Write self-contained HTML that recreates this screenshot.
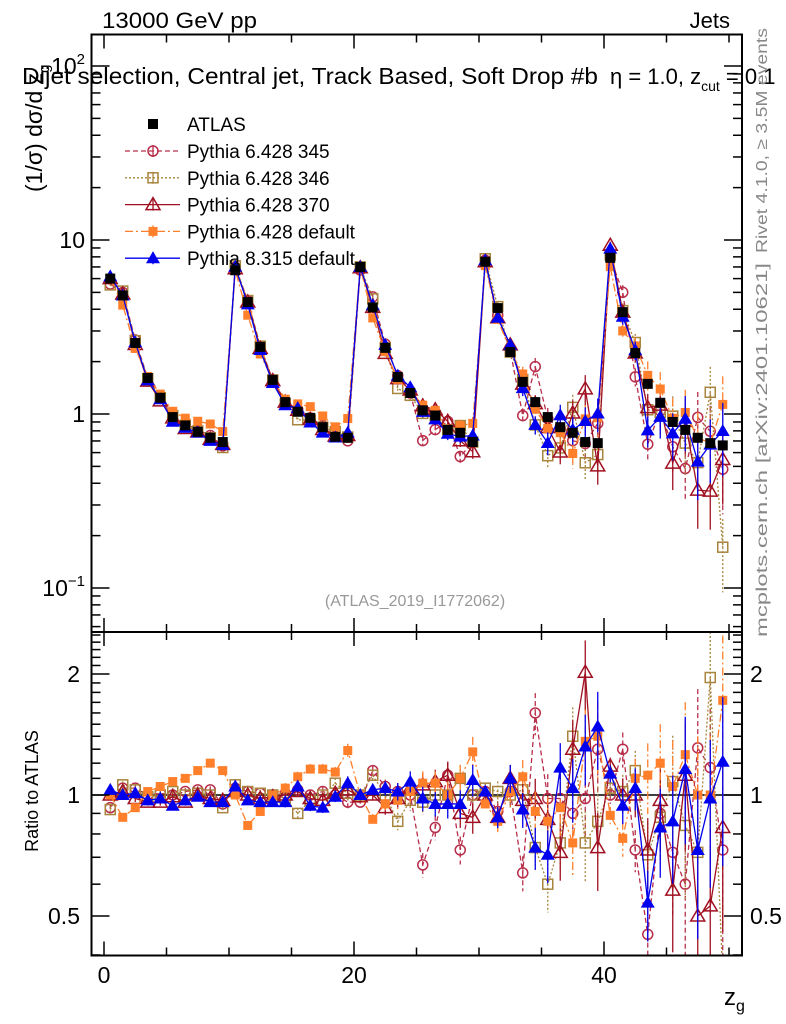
<!DOCTYPE html>
<html><head><meta charset="utf-8"><style>
html,body{margin:0;padding:0;background:#fff;overflow:hidden;width:786px;height:1024px}
svg{display:block;font-family:"Liberation Sans",sans-serif}
</style></head><body>
<svg id="c" width="786" height="1024" viewBox="0 0 786 1024">
<text x="102" y="28" font-size="22" textLength="155" lengthAdjust="spacingAndGlyphs">13000 GeV pp</text>
<text x="730" y="28" font-size="22" text-anchor="end">Jets</text>
<text x="22" y="84" font-size="23" textLength="576" lengthAdjust="spacingAndGlyphs">Dijet selection, Central jet, Track Based, Soft Drop #b</text>
<text x="610" y="84" font-size="22">η = 1.0, z<tspan font-size="14" dy="7">cut</tspan><tspan dy="-7"> = 0.1</tspan></text>
<text transform="translate(42,192) rotate(-90)" font-size="23">(1/σ) dσ/d z<tspan font-size="15" dy="7">g</tspan></text>
<text transform="translate(767,253) rotate(-90)" font-size="16" fill="#888" textLength="225" lengthAdjust="spacingAndGlyphs">Rivet 4.1.0, ≥ 3.5M events</text>
<text transform="translate(767,637) rotate(-90)" font-size="16" fill="#888" textLength="374" lengthAdjust="spacingAndGlyphs">mcplots.cern.ch [arXiv:2401.10621]</text>
<text x="415" y="606" font-size="16" fill="#999" text-anchor="middle">(ATLAS_2019_I1772062)</text>
<text transform="translate(38,791) rotate(-90)" font-size="18" text-anchor="middle">Ratio to ATLAS</text>
<text x="724" y="1005" font-size="24">z<tspan font-size="16" dy="6">g</tspan></text>
<g id="g"></g>
</svg>
<script>
const atlas=[6.0,4.8,2.56,1.61,1.24,0.96,0.86,0.79,0.73,0.69, 6.7,4.4,2.43,1.57,1.17,1.03,0.95,0.84,0.74,0.73, 7.0,4.1,2.4,1.63,1.32,1.05,0.98,0.81,0.78,0.69, 7.5,4.06,2.27,1.53,1.17,0.96,0.84,0.78,0.69,0.68, 7.9,3.85,2.24,1.49,1.16,0.9,0.81,0.73,0.68,0.66];
const rP8=[1.03,1.0,1.01,0.97,0.98,0.94,0.97,0.99,0.96,0.96, 1.05,0.97,0.96,0.96,0.96,1.05,0.94,0.93,0.99,1.07, 1.0,1.03,1.04,1.02,1.08,0.98,0.95,0.95,0.95,1.09, 1.02,0.88,1.1,0.92,0.74,0.71,1.17,1.04,1.32,1.48, 1.13,0.94,1.04,0.54,0.83,0.86,1.16,0.73,0.98,1.21];
const rP6def=[1.0,0.88,0.93,1.02,1.05,1.08,1.1,1.15,1.2,1.15, 1.0,0.84,0.91,1.0,1.04,1.11,1.16,1.16,1.14,1.29, 1.0,0.87,0.95,0.97,1.02,1.07,1.07,1.0,1.1,1.28, 0.95,0.86,1.02,1.11,0.91,0.86,0.93,0.76,1.36,1.4, 0.89,0.78,1.1,1.12,1.2,1.05,1.26,1.0,1.0,1.72];
const r370=[1.0,1.02,0.98,0.96,0.96,0.99,0.96,1.0,0.98,0.97, 1.02,1.0,0.98,0.99,1.0,1.02,0.98,0.97,1.01,1.03, 0.99,1.0,0.93,0.98,1.04,1.06,1.08,1.12,0.9,0.88, 1.0,0.88,1.1,0.97,0.98,0.87,0.72,1.3,2.02,0.74, 1.18,1.0,1.0,0.73,0.97,0.58,1.12,0.5,0.53,0.83];
const r345=[0.93,1.04,1.04,1.0,1.01,1.0,1.02,1.03,1.03,0.95, 1.04,1.02,1.01,1.0,1.01,1.03,1.0,1.02,1.0,0.96, 0.96,1.15,1.05,1.02,1.0,0.67,0.83,1.12,0.73,1.0, 1.02,0.91,1.02,0.64,1.6,0.98,0.98,0.9,0.98,1.3, 1.0,1.3,0.73,0.45,0.9,0.72,0.6,1.31,1.17,0.73];
const r346=[0.92,1.06,1.03,0.99,1.0,1.02,1.0,1.01,1.0,0.93, 1.06,1.02,1.01,1.0,0.98,0.9,0.97,1.0,1.07,1.01, 1.0,1.12,1.0,0.86,0.97,0.96,1.0,1.0,1.1,1.0, 1.04,1.02,1.0,1.03,0.74,0.6,0.76,1.4,0.76,0.86, 1.04,1.02,1.15,0.71,0.88,1.08,0.84,0.72,1.96,0.26];
const relErr=[0.02,0.02,0.02,0.02,0.02,0.02,0.02,0.02,0.02,0.02, 0.02,0.02,0.02,0.02,0.03,0.03,0.03,0.03,0.03,0.04, 0.02,0.03,0.04,0.05,0.06,0.07,0.07,0.08,0.08,0.09, 0.03,0.06,0.08,0.1,0.12,0.15,0.15,0.18,0.2,0.22, 0.05,0.1,0.12,0.2,0.25,0.3,0.35,0.4,0.4,0.45];
const series=[
 {n:'pythia6-345',lab:'Pythia 6.428 345',r:r345,c:'#b82e4a',d:'5,3',m:'circle'},
 {n:'pythia6-346',lab:'Pythia 6.428 346',r:r346,c:'#a8843c',d:'2,2',m:'osquare'},
 {n:'pythia6-370',lab:'Pythia 6.428 370',r:r370,c:'#a01020',d:'',m:'otri'},
 {n:'pythia6-default',lab:'Pythia 6.428 default',r:rP6def,c:'#ff7f2a',d:'8,3,2,3',m:'fsquare'},
 {n:'pythia8-default',lab:'Pythia 8.315 default',r:rP8,c:'#0000ee',d:'',m:'ftri'}];
const L=91.5,R=742,T=34.5,M=632,B=955.5;
const X=v=>104+12.5*v;
const Y=v=>414-174*Math.log10(v);
const YR=v=>795-402*Math.log10(v);
const NS='http://www.w3.org/2000/svg';
const g=document.getElementById('g');
function mk(t,a,p){const e=document.createElementNS(NS,t);for(const k in a)e.setAttribute(k,a[k]);(p||g).appendChild(e);return e;}
function marker(m,x,y,c,p){
 let e;
 if(m==='circle')e=mk('circle',{cx:x,cy:y,r:5,fill:'none',stroke:c,'stroke-width':1.5},p);
 else if(m==='osquare')e=mk('rect',{x:x-5,y:y-5,width:10,height:10,fill:'none',stroke:c,'stroke-width':1.5},p);
 else if(m==='fsquare')e=mk('rect',{x:x-4.5,y:y-4.5,width:9,height:9,fill:c},p);
 else if(m==='bsquare')e=mk('rect',{x:x-5,y:y-5,width:10,height:10,fill:'#000'},p);
 else if(m==='otri')e=mk('path',{d:`M${x},${y-7}L${x+7},${y+5}L${x-7},${y+5}Z`,fill:'none',stroke:c,'stroke-width':1.5},p);
 else e=mk('path',{d:`M${x},${y-7}L${x+7},${y+5}L${x-7},${y+5}Z`,fill:c},p);
 return e;
}
function cl(v,lo,hi){return Math.max(lo,Math.min(hi,v));}
const ref=mk('line',{x1:L,x2:R,y1:YR(1),y2:YR(1),stroke:'#000','stroke-width':1.5});


mk('clipPath',{id:'cm'});mk('rect',{x:L,y:T,width:R-L,height:M-T},document.getElementById('cm'));
mk('clipPath',{id:'cr'});mk('rect',{x:L,y:M,width:R-L,height:B-M},document.getElementById('cr'));
series.forEach(s=>{
 const gm=mk('g',{'clip-path':'url(#cm)'});
 
 
 const gr=mk('g',{'clip-path':'url(#cr)'});
 
 
 let pm='',pr='';
 atlas.forEach((a,i)=>{
  const v=a*s.r[i],x=X(i+0.5),e=relErr[i];
  pm+=(i?'L':'M')+x+','+cl(Y(v),T-20,M+20);pr+=(i?'L':'M')+x+','+cl(YR(s.r[i]),M-20,B+20);
  mk('line',{x1:x,x2:x,y1:cl(Y(v*(1+e)),T,M),y2:cl(Y(Math.max(v*(1-e),0.001)),T,M),stroke:s.c,'stroke-width':1.3,'stroke-dasharray':s.d},gm);
  mk('line',{x1:x,x2:x,y1:cl(YR(s.r[i]*(1+e)),M,B),y2:cl(YR(Math.max(s.r[i]*(1-e),0.01)),M,B),stroke:s.c,'stroke-width':1.3,'stroke-dasharray':s.d},gr);
 });
 mk('path',{d:pm,fill:'none',stroke:s.c,'stroke-width':1.3,'stroke-dasharray':s.d},gm);
 mk('path',{d:pr,fill:'none',stroke:s.c,'stroke-width':1.3,'stroke-dasharray':s.d},gr);
 atlas.forEach((a,i)=>{
  const y=Y(a*s.r[i]);
  if(y>T&&y<M){const pt=marker(s.m,X(i+0.5),y,s.c,gm);
   
   }
  const yr=YR(s.r[i]);
  if(yr>M&&yr<B)marker(s.m,X(i+0.5),yr,s.c,gr);
 });
});
const ga=mk('g',{});


atlas.forEach((a,i)=>{
 const pt=marker('bsquare',X(i+0.5),Y(a),'#000',ga);
 
 
});
mk('rect',{x:L,y:T,width:R-L,height:M-T,fill:'none',stroke:'#000','stroke-width':2});
mk('rect',{x:L,y:M,width:R-L,height:B-M,fill:'none',stroke:'#000','stroke-width':2});
for(let v=0;v<=50;v+=5){const x=X(v),len=(v%20===0)?14:8;
 [[T,1],[M,1],[M,-1],[B,-1]].forEach(([y,d])=>mk('line',{x1:x,x2:x,y1:y,y2:y+d*len,stroke:'#000','stroke-width':1.5}));}
[0,20,40].forEach(v=>{const t=mk('text',{x:X(v),y:983,'font-size':23,'text-anchor':'middle'});t.textContent=v;
 });
for(let d=-2;d<=2;d++)for(let k=1;k<10;k++){const v=k*Math.pow(10,d),y=Y(v);if(y<T||y>M)continue;const len=k===1?18:9;
 mk('line',{x1:L,x2:L+len,y1:y,y2:y,stroke:'#000','stroke-width':1.5});mk('line',{x1:R,x2:R-len,y1:y,y2:y,stroke:'#000','stroke-width':1.5});}
[['10',240],['1',414]].forEach(([s,y])=>{const t=mk('text',{x:85,y:y+8,'font-size':23,'text-anchor':'end'});t.textContent=s;
 });
{const t=mk('text',{x:85,y:74,'font-size':23,'text-anchor':'end'});t.innerHTML='10<tspan font-size="15" dy="-10">2</tspan>';
 }
{const t=mk('text',{x:85,y:596,'font-size':23,'text-anchor':'end'});t.innerHTML='10<tspan font-size="15" dy="-10">−1</tspan>';
 }
[0.4,0.5,0.6,0.7,0.8,0.9,1,1.1,1.2,1.3,1.4,1.5,1.6,1.7,1.8,1.9,2,2.1,2.2,2.3,2.4,2.5].forEach(v=>{const y=YR(v);if(y<M||y>B)return;
 const len=(v===0.5||v===1||v===2)?18:9;
 mk('line',{x1:L,x2:L+len,y1:y,y2:y,stroke:'#000','stroke-width':1.5});mk('line',{x1:R,x2:R-len,y1:y,y2:y,stroke:'#000','stroke-width':1.5});});
[['2',2],['1',1],['0.5',0.5]].forEach(([s,v])=>{
 const t=mk('text',{x:80,y:YR(v)+8,'font-size':23,'text-anchor':'end'});t.textContent=s;
 
 const t2=mk('text',{x:750,y:YR(v)+8,'font-size':23});t2.textContent=s;
 });
const lg=mk('g',{});


const e0=mk('g',{},lg);


marker('bsquare',153,124,'#000',e0);
{const t=mk('text',{x:187,y:131,'font-size':19},e0);t.textContent='ATLAS';}
series.forEach((s,k)=>{const y=151+k*26.8;
 const e=mk('g',{},lg);
 
 
 mk('line',{x1:125,x2:180,y1:y,y2:y,stroke:s.c,'stroke-width':1.3,'stroke-dasharray':s.d},e);
 mk('line',{x1:153,x2:153,y1:y-6,y2:y+6,stroke:s.c,'stroke-width':1.3},e);
 marker(s.m,153,y,s.c,e);
 const t=mk('text',{x:187,y:y+7,'font-size':19},e);t.textContent=s.lab;});
</script>
</body></html>
